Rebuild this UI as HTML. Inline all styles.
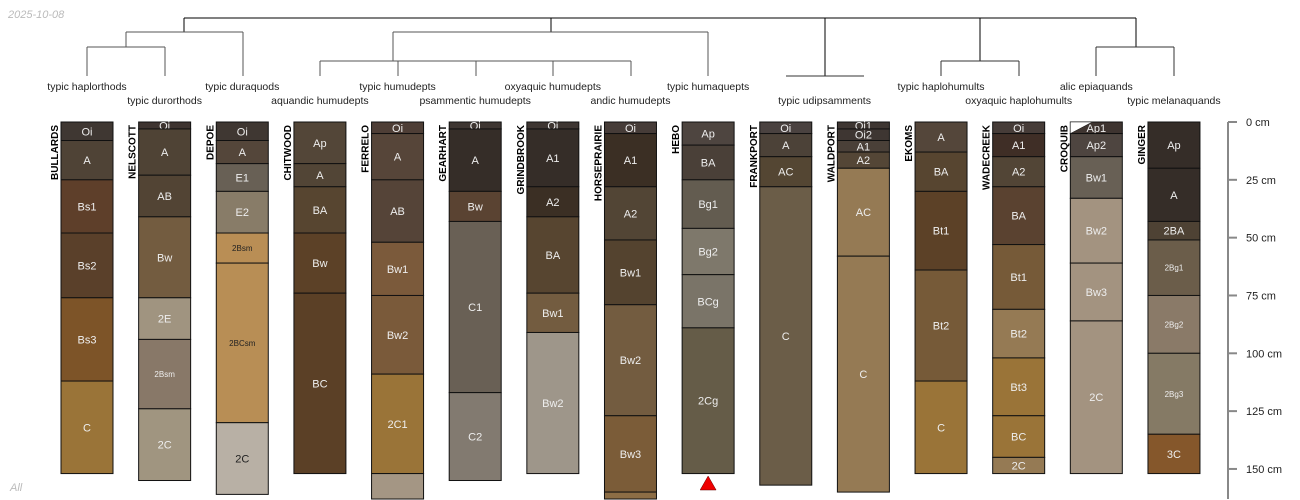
<!DOCTYPE html>
<html><head><meta charset="utf-8"><style>
html,body{margin:0;padding:0;background:#fff;width:1300px;height:500px;overflow:hidden;}
svg{display:block;font-family:"Liberation Sans",sans-serif;overflow:hidden;}
</style></head><body>
<svg id="chart" width="1300" height="500" viewBox="0 0 1300 500">
<text x="8" y="18" font-size="11" font-style="italic" fill="#bbb">2025-10-08</text>
<text x="10" y="491" font-size="11" font-style="italic" fill="#bbb">All</text>
<g id="dendro" stroke-width="1" fill="none">
<path d="M184,18H1136M184,18V32M551,18V32M825,18V76M980,18V61M1136,18V47" stroke="#000"/>
<path d="M126,32H243M126,32V47M243,32V76M87,47H165M87,47V76M165,47V76" stroke="#555"/>
<path d="M393,32H708M708,32V76M393,32V61M320,61H631M320,61V76M398,61V76M476,61V76M553,61V76M631,61V76" stroke="#555"/>
<path d="M786,76H864M941,61H1019M941,61V76M1019,61V76M1096,47H1174M1096,47V76M1174,47V76" stroke="#333"/>
</g>
<g id="profiles"></g>
<g id="labels"></g>
<g id="axis"></g>
</svg>
<script>
const profileNames = ["BULLARDS","NELSCOTT","DEPOE","CHITWOOD","FERRELO","GEARHART","GRINDBROOK","HORSEPRAIRIE","HEBO","FRANKPORT","WALDPORT","EKOMS","WADECREEK","CROQUIB","GINGER"];
const taxonNames = ["typic haplorthods","typic durorthods","typic duraquods","aquandic humudepts","typic humudepts","psammentic humudepts","oxyaquic humudepts","andic humudepts","typic humaquepts","typic udipsamments","typic haplohumults","oxyaquic haplohumults","alic epiaquands","typic melanaquands"];
const taxonSlot = [0,1,2,3,4,5,6,7,8,9.5,11,12,13,14];
const horizonDepths = [
 [0,8,25,48,76,112,152],
 [0,3,23,41,76,94,124,155],
 [0,8,18,30,48,61,130,161],
 [0,18,28,48,74,152],
 [0,5,25,52,75,109,152,163],
 [0,3,30,43,117,155],
 [0,3,28,41,74,91,152],
 [0,5,28,51,79,127,160,163],
 [0,10,25,46,66,89,152],
 [0,5,15,28,157],
 [0,3,8,13,20,58,160],
 [0,13,30,64,112,152],
 [0,5,15,28,53,81,102,127,145,152],
 [0,5,15,33,61,86,152],
 [0,20,43,51,75,100,135,152]
];
const horizonNames = [
 ["Oi","A","Bs1","Bs2","Bs3","C"],
 ["Oi","A","AB","Bw","2E","2Bsm","2C"],
 ["Oi","A","E1","E2","2Bsm","2BCsm","2C"],
 ["Ap","A","BA","Bw","BC"],
 ["Oi","A","AB","Bw1","Bw2","2C1","2C2"],
 ["Oi","A","Bw","C1","C2"],
 ["Oi","A1","A2","BA","Bw1","Bw2"],
 ["Oi","A1","A2","Bw1","Bw2","Bw3","BC"],
 ["Ap","BA","Bg1","Bg2","BCg","2Cg"],
 ["Oi","A","AC","C"],
 ["Oi1","Oi2","A1","A2","AC","C"],
 ["A","BA","Bt1","Bt2","C"],
 ["Oi","A1","A2","BA","Bt1","Bt2","Bt3","BC","2C"],
 ["Ap1","Ap2","Bw1","Bw2","Bw3","2C"],
 ["Ap","A","2BA","2Bg1","2Bg2","2Bg3","3C"]
];
const horizonColors = [
 ["#3f3732","#4f4336","#5e3f2a","#5a402a","#7d5428","#9a7438"],
 ["#3e3430","#4f4335","#524434","#735c40","#a09480","#887868","#a09580"],
 ["#3f3732","#54463a","#686055","#887c68","#b98e55","#b88e55","#b8b0a5"],
 ["#534638","#524536","#574530","#5c4127","#5b4026"],
 ["#4e3e36","#564539","#554438","#7b5a3b","#7a5a3a","#9a7438","#a49684"],
 ["#3e3632","#352d28","#5a4332","#696055","#827a70"],
 ["#3e3632","#352d28","#3b2f24","#574530","#735c40","#9e968a"],
 ["#463c38","#3b2f24","#524535","#54432f","#735c40","#7b5c38","#8c6d45"],
 ["#4e4540","#4a4038","#635c50","#7e786b","#7a7468","#655c48"],
 ["#4a4240","#4c4238","#544633","#6b5d48"],
 ["#3e3632","#3e3632","#4a4038","#544636","#957a54","#957a54"],
 ["#54463a","#574530","#5c4127","#765a38","#9a7438"],
 ["#463c38","#3f2e26","#524536","#5a4230","#765a38","#957a54","#9a7438","#9a7438","#957a54"],
 ["#3e3430","#4e4540","#686055","#a39380","#a39380","#a39380"],
 ["#352d28","#352d28","#4e4234","#6b5d4a","#8a7a68","#857a65","#85572b"]
];
const darkText = [[],[],["2Bsm","2BCsm","2C"],[],[],[],[],[],[],[],[],[],[],[],[]];
const smallText = ["2Bsm","2BCsm","2Bg1","2Bg2","2Bg3"];
const axisTicks = [0,25,50,75,100,125,150];

const NS="http://www.w3.org/2000/svg";
const y0=122, pxPerCm=2.313, maxVisibleDepth=163;
const yScale=d=>y0+d*pxPerCm;
const xCenter=i=>87+i*77.64;
const colW=52;
function mk(tag,attrs){const e=document.createElementNS(NS,tag);for(const k in attrs)e.setAttribute(k,attrs[k]);return e;}
const pg=document.getElementById('profiles');
profileNames.forEach((name,i)=>{
  const cx=xCenter(i), left=cx-colW/2;
  const g=mk('g',{});
  
  
  const dep=horizonDepths[i];
  for(let h=0;h<dep.length-1;h++){
    const yt=yScale(dep[h]), yb=yScale(dep[h+1]);
    const r=mk('rect',{x:left,y:yt,width:colW,height:yb-yt,fill:horizonColors[i][h],stroke:'#111','stroke-width':1});
    
    
    g.appendChild(r);
    if(dep[h+1]>=maxVisibleDepth) continue;
    const nm=horizonNames[i][h];
    const small=smallText.includes(nm);
    const t=mk('text',{x:cx,y:(yt+yb)/2+(small?3:4),'text-anchor':'middle','font-size':small?8:11,fill:darkText[i].includes(nm)?'#222':'#eee'});
    t.textContent=nm;
    
    
    g.appendChild(t);
  }
  if(name==='CROQUIB'){
    const tri=mk('polygon',{points:`${left},${yScale(0)} ${left+22},${yScale(0)} ${left},${yScale(5)}`,fill:'#fff',stroke:'#111','stroke-width':0.5});
    
    
    g.appendChild(tri);
  }
  const lbl=mk('text',{x:0,y:0,transform:`translate(${left-3},${y0+3}) rotate(-90)`,'text-anchor':'end','font-size':10,'font-weight':'bold',fill:'#000'});
  lbl.textContent=name;
  
  
  g.appendChild(lbl);
  pg.appendChild(g);
});
const lg=document.getElementById('labels');
taxonNames.forEach((tn,k)=>{
  const tx=mk('text',{x:xCenter(taxonSlot[k]),y:k%2===0?90:104,'text-anchor':'middle','font-size':10.5,fill:'#222'});
  tx.textContent=tn;
  
  
  lg.appendChild(tx);
});
{
  const cx=xCenter(8);
  const tr=mk('polygon',{points:`${cx-8},490 ${cx+8},490 ${cx},476`,fill:'#e00',stroke:'#600','stroke-width':0.5});
  
  
  pg.appendChild(tr);
}
const ax=document.getElementById('axis');
const al=mk('line',{x1:1228,y1:y0,x2:1228,y2:499,stroke:'#888','stroke-width':2});


ax.appendChild(al);
axisTicks.forEach(d=>{
  const y=yScale(d);
  const tk=mk('line',{x1:1228,y1:y,x2:1237,y2:y,stroke:'#888','stroke-width':2});
  
  
  ax.appendChild(tk);
  const t=mk('text',{x:1246,y:y+4,'font-size':11,fill:'#222'});
  t.textContent=d+' cm';
  
  
  ax.appendChild(t);
});
</script>
</body></html>
